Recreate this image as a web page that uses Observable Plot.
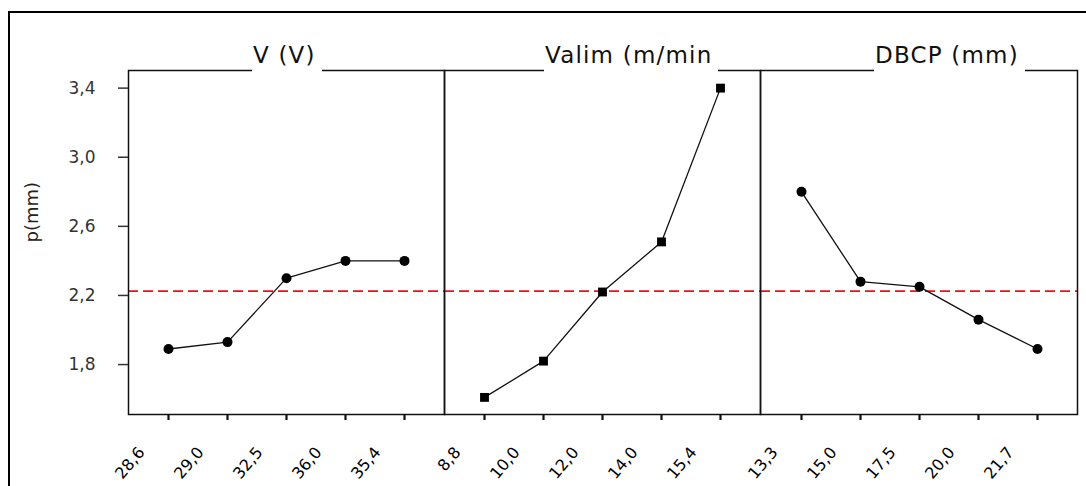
<!DOCTYPE html>
<html>
<head>
<meta charset="utf-8">
<script src="https://cdn.jsdelivr.net/npm/d3@7"></script>
<script src="https://cdn.jsdelivr.net/npm/@observablehq/plot@0.6"></script>
<style>
  html, body { margin: 0; padding: 0; background: #fff; }
  #wrap { position: relative; width: 1086px; height: 486px; overflow: hidden; background: #fff; }
  .outer { position: absolute; left: 8px; top: 11px; width: 1200px; height: 600px;
           border-left: 2px solid #000; border-top: 2px solid #000; }
  .panel { position: absolute; top: 0; }
  .title { position: absolute; top: 44px; font-family: "DejaVu Sans", sans-serif; font-size: 23px;
           line-height: 23px; letter-spacing: 1.2px; color: #111; background: #fff;
           padding: 0 6px 7px 1px; white-space: pre; }
</style>
</head>
<body>
<div id="wrap">
  <div class="outer"></div>
  <div id="p1" class="panel" style="left:0px"></div>
  <div id="p2" class="panel" style="left:444px"></div>
  <div id="p3" class="panel" style="left:760px"></div>
</div>
<script>
// ---- data ----
const vLabels = ["28,6", "29,0", "32,5", "36,0", "35,4"];
const vValues = [1.89, 1.93, 2.30, 2.40, 2.40];
const valimLabels = ["8,8", "10,0", "12,0", "14,0", "15,4"];
const valimValues = [1.61, 1.82, 2.22, 2.51, 3.40];
const dbcpLabels = ["13,3", "15,0", "17,5", "20,0", "21,7"];
const dbcpValues = [2.80, 2.28, 2.25, 2.06, 1.89];
const grandMean = 2.225;
const yTicks = [1.8, 2.2, 2.6, 3.0, 3.4];
const yDomain = [1.511, 3.502];
const titles = ["V (V)", "Valim (m/min", "DBCP (mm)"];
const yLabel = "p(mm)";

function panel({labels, values, symbol, width, marginLeft, marginRight, yAxis}) {
  const data = labels.map((l, i) => ({x: l, y: values[i]}));
  return Plot.plot({
    width, height: 486,
    marginTop: 70, marginBottom: 72, marginLeft, marginRight,
    style: {background: "transparent", overflow: "visible", fontFamily: "DejaVu Sans, sans-serif"},
    x: {type: "point", domain: labels, padding: 0.67, axis: null},
    y: {domain: yDomain, axis: null},
    marks: [
      Plot.ruleY([grandMean], {stroke: "#f01010", strokeWidth: 1.6, strokeDasharray: "10,5"}),
      Plot.frame({stroke: "#111", strokeWidth: 1.5}),
      Plot.axisX({tickSize: 6, tickFormat: () => "", line: true, strokeWidth: 2.2, stroke: "#111", label: null}),
      Plot.axisX({tickSize: 0, tickRotate: -50, tickPadding: 35, dx: -27, fontSize: 16, fill: "#000", label: null}),
      yAxis ? Plot.axisY({ticks: yTicks, tickFormat: d => d.toFixed(1).replace(".", ","), tickSize: 10,
                          tickPadding: 23, fontSize: 17, color: "#333", strokeWidth: 1.5, label: null}) : null,
      yAxis ? Plot.text([yLabel], {frameAnchor: "left", dx: -96, rotate: -90, fontSize: 18, fill: "#222"}) : null,
      Plot.line(data, {x: "x", y: "y", stroke: "#111", strokeWidth: 1.3}),
      Plot.dot(data, {x: "x", y: "y", symbol, fill: "#000", stroke: "none", r: 5})
    ]
  });
}

document.getElementById("p1").append(panel({labels: vLabels, values: vValues, symbol: "circle",
  width: 444, marginLeft: 128, marginRight: 0, yAxis: true}));
document.getElementById("p2").append(panel({labels: valimLabels, values: valimValues, symbol: "square",
  width: 316, marginLeft: 0, marginRight: 0, yAxis: false}));
document.getElementById("p3").append(panel({labels: dbcpLabels, values: dbcpValues, symbol: "circle",
  width: 326, marginLeft: 0, marginRight: 9, yAxis: false}));

const titleLeft = [252, 544, 874];
const wrap = document.getElementById("wrap");
titles.forEach((t, i) => {
  const s = document.createElement("span");
  s.className = "title";
  s.textContent = t;
  s.style.left = titleLeft[i] + "px";
  wrap.append(s);
});
</script>
</body>
</html>
